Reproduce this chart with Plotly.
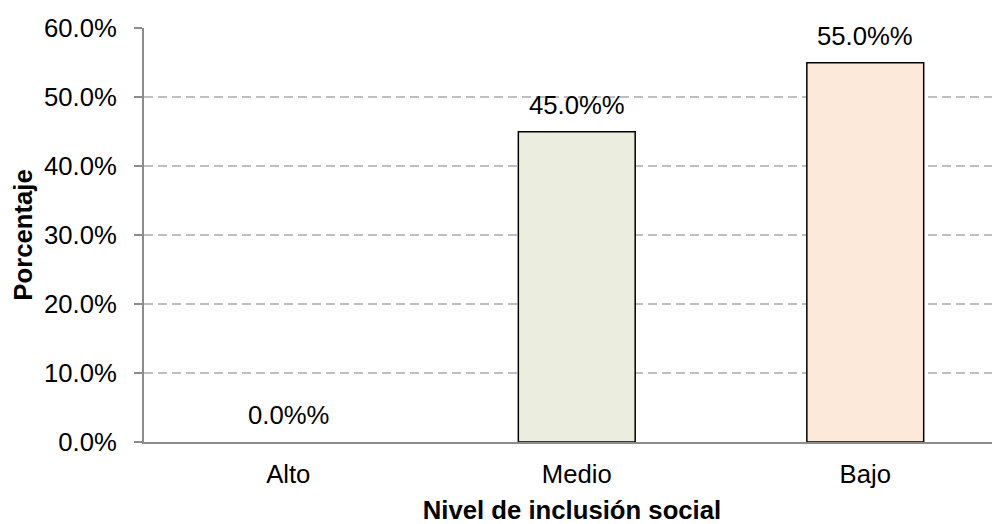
import plotly.graph_objects as go

categories = ["Alto", "Medio", "Bajo"]
values = [0.0, 45.0, 55.0]
colors = ["#EBEEDE", "#EBEEDE", "#FDE9DA"]
tick_vals = [0, 10, 20, 30, 40, 50, 60]
tick_text = ["0.0%", "10.0%", "20.0%", "30.0%", "40.0%", "50.0%", "60.0%"]

font_family = "Liberation Sans, Arial, sans-serif"
fs = 25.7

fig = go.Figure()
fig.add_trace(go.Bar(
    x=categories,
    y=values,
    width=0.405,
    marker=dict(color=colors,
                line=dict(color="#000000", width=[0 if v == 0 else 1.5 for v in values])),
    hoverinfo="skip",
))

for c, v in zip(categories, values):
    fig.add_annotation(
        x=c, y=v, text=f"{v:.1f}%%", showarrow=False,
        yanchor="bottom", yshift=11,
        font=dict(family=font_family, size=fs, color="#000000"),
    )

# the page body adds an 8px margin, so the figure is sized/offset to compensate
fig.update_layout(
    width=992, height=516,
    margin=dict(l=136, r=0, t=20, b=82, autoexpand=False),
    paper_bgcolor="white", plot_bgcolor="white",
    showlegend=False,
    font=dict(family=font_family, size=fs, color="#000000"),
    xaxis=dict(
        range=[-0.5, 2.467],
        showline=True, linecolor="#8C8C8C", linewidth=2,
        showgrid=False, ticks="",
        automargin=False,
        ticklabelstandoff=8,
        tickfont=dict(size=fs),
        title=dict(text="<b>Nivel de inclusión social</b>", font=dict(size=fs), standoff=19),
    ),
    yaxis=dict(
        range=[0, 60.05],
        tickvals=tick_vals, ticktext=tick_text,
        showline=True, linecolor="#8C8C8C", linewidth=2,
        ticks="outside", ticklen=8, tickcolor="#8C8C8C", tickwidth=2,
        ticklabelstandoff=12,
        showgrid=True, gridcolor="#BFBFBF", gridwidth=1.5, griddash="9px,5px",
        zeroline=False,
        automargin=False,
        tickfont=dict(size=fs),
        title=dict(text="<b>Porcentaje</b>", font=dict(size=fs), standoff=4),
    ),
)

fig.write_html("out.html")
